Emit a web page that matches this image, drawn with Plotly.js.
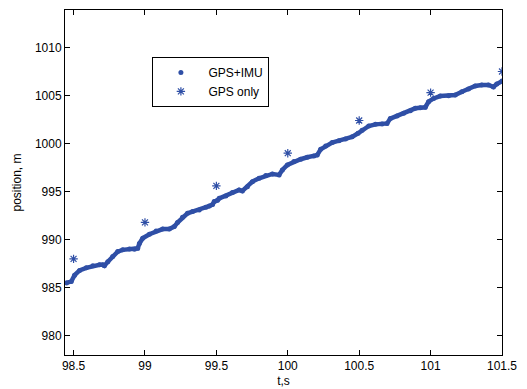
<!DOCTYPE html>
<html>
<head>
<meta charset="utf-8">
<script src="https://cdn.plot.ly/plotly-3.0.1.min.js"></script>
<style>html,body{margin:0;padding:0;background:#fff;}#chart{width:527px;height:389px;}</style>
</head>
<body>
<div id="chart"></div>
<script>
// GPS+IMU fused position
var imuT = [98.45,98.484,98.507,98.542,98.589,98.635,98.682,98.705,98.716,98.74,98.774,98.809,98.844,98.891,98.926,98.949,98.961,98.984,99.031,99.078,99.124,99.17,99.205,99.228,99.263,99.298,99.333,99.38,99.427,99.45,99.473,99.485,99.508,99.52,99.566,99.612,99.659,99.682,99.717,99.752,99.799,99.846,99.892,99.939,99.962,99.997,100.043,100.09,100.136,100.183,100.206,100.23,100.265,100.311,100.358,100.404,100.45,100.492,100.52,100.567,100.614,100.66,100.695,100.718,100.765,100.811,100.858,100.893,100.928,100.963,100.986,101.021,101.068,101.126,101.172,101.219,101.265,101.312,101.358,101.405,101.44,101.463,101.5];
var imuPos = [985.5,985.65,986.3,986.8,987.07,987.28,987.38,987.38,987.3,987.7,988.24,988.76,988.94,989.04,989.0,989.1,989.6,990.15,990.57,990.9,991.1,991.1,991.36,991.78,992.34,992.75,992.92,993.1,993.38,993.5,993.65,993.96,994.1,994.3,994.55,994.9,995.18,995.07,995.52,996.04,996.39,996.67,996.84,996.74,997.26,997.78,998.13,998.37,998.58,998.71,998.8,999.4,999.75,1000.1,1000.3,1000.48,1000.7,1001.07,1001.4,1001.83,1002.0,1002.04,1002.1,1002.6,1002.87,1003.15,1003.42,1003.67,1003.73,1003.78,1004.36,1004.7,1004.95,1004.98,1005.05,1005.4,1005.68,1005.99,1006.1,1006.1,1005.9,1006.2,1006.5];
// GPS only fixes
var gpsT = [98.5,99.0,99.5,100.0,100.5,101.0,101.5];
var gpsPos = [988.0,991.8,995.6,999.0,1002.4,1005.3,1007.5];
var xTicks = [98.5,99,99.5,100,100.5,101,101.5];
var xTickText = ['98.5','99','99.5','100','100.5','101','101.5'];
var yTicks = [980,985,990,995,1000,1005,1010];

var blue = 'rgb(47,79,166)';
var traces = [
  {x: imuT, y: imuPos, name: 'GPS+IMU', type: 'scatter', mode: 'lines', showlegend: false,
   line: {color: blue, width: 4.5}},
  {x: imuT, y: imuPos, name: 'GPS+IMU', type: 'scatter', mode: 'markers',
   marker: {color: blue, size: 5, symbol: 'circle'}},
  {x: gpsT, y: gpsPos, name: 'GPS only', type: 'scatter', mode: 'markers',
   marker: {color: blue, size: 7, symbol: 'asterisk-open', line: {color: blue, width: 1.2}}}
];
var fnt = {family: 'Liberation Sans, Arial, sans-serif', size: 12, color: '#000'};
var layout = {
  width: 527, height: 389,
  margin: {l: 65, r: 25, t: 10, b: 34},
  paper_bgcolor: '#fff', plot_bgcolor: '#fff',
  font: fnt,
  showlegend: true,
  legend: {x: 0.2, y: 0.864, xanchor: 'left', yanchor: 'top', bordercolor: '#000', borderwidth: 1,
           bgcolor: '#fff', font: fnt, itemwidth: 45, tracegroupgap: 0},
  xaxis: {range: [98.44, 101.5], tickvals: xTicks, ticktext: xTickText, ticks: 'inside', ticklen: 5,
          tickcolor: '#000', showline: true, linecolor: '#000', linewidth: 1, mirror: 'ticks',
          showgrid: false, zeroline: false, tickfont: fnt,
          title: {text: 't,s', font: fnt, standoff: 4}},
  yaxis: {range: [978, 1013.9], tickvals: yTicks, ticks: 'inside', ticklen: 5,
          tickcolor: '#000', showline: true, linecolor: '#000', linewidth: 1, mirror: 'ticks',
          showgrid: false, zeroline: false, tickfont: fnt,
          title: {text: 'position, m', font: fnt, standoff: 10}}
};
Plotly.newPlot('chart', traces, layout, {displayModeBar: false, staticPlot: true});
</script>
</body>
</html>
